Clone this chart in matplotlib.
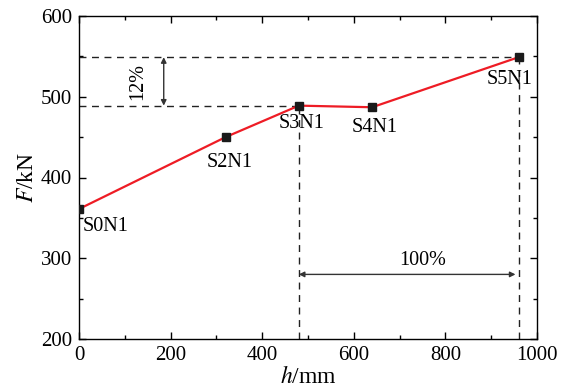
import numpy as np
import matplotlib.pyplot as plt
from matplotlib.ticker import MultipleLocator

plt.rcParams['font.family'] = ['Liberation Serif', 'DejaVu Serif']
plt.rcParams['mathtext.fontset'] = 'stix'

h = [0, 320, 480, 640, 960]
F = [361, 450, 489, 487, 549]
names = ['S0N1', 'S2N1', 'S3N1', 'S4N1', 'S5N1']
# label offsets (pixels) relative to each point
offsets = [(4, -8), (4, -16), (3, -8), (3, -11), (-9, -13)]
aligns = ['left', 'center', 'center', 'center', 'center']

F_low = 489
F_high = 549
h_start = 480
h_end = 960
pct_F = '12%'
pct_h = '100%'

fig = plt.figure(figsize=(5.63, 3.87), dpi=100)
ax = fig.add_axes([79 / 563, 48 / 387, 458 / 563, 323 / 387])

dash = dict(color='#222222', lw=1.0, ls=(0, (5, 4)))
ax.plot([0, h_end], [F_high, F_high], **dash)
ax.plot([0, h_start], [F_low, F_low], **dash)
ax.plot([h_start, h_start], [200, F_low], **dash)
ax.plot([h_end, h_end], [200, F_high], **dash)

ax.plot(h, F, color='#ee1c25', lw=1.6, zorder=3)
ax.plot(h, F, ls='none', marker='s', ms=6, color='#1a1a1a', zorder=4)

for x, y, s, off, a in zip(h, F, names, offsets, aligns):
    ax.annotate(s, (x, y), xytext=off, textcoords='offset pixels',
                ha=a, va='top', fontsize=14.5)

arrow = dict(arrowstyle='<|-|>', color='#333333', lw=1.0,
             mutation_scale=8, shrinkA=0, shrinkB=0)
ax.annotate('', xy=(185, F_high), xytext=(185, F_low), arrowprops=arrow)
ax.text(128, (F_low + F_high) / 2, pct_F, rotation=90, ha='center',
        va='center', fontsize=14.5)
ax.annotate('', xy=(h_start, 280), xytext=(953, 280), arrowprops=arrow)
ax.text(751, 286, pct_h, ha='center', va='bottom', fontsize=14.5)

ax.set_xlim(0, 1000)
ax.set_ylim(200, 600)
ax.xaxis.set_major_locator(MultipleLocator(200))
ax.xaxis.set_minor_locator(MultipleLocator(100))
ax.yaxis.set_major_locator(MultipleLocator(100))
ax.yaxis.set_minor_locator(MultipleLocator(50))
ax.tick_params(which='both', direction='in', top=True, right=True,
               labelsize=15, width=1, pad=5)
ax.tick_params(which='major', length=5)
ax.tick_params(which='minor', length=3)
for sp in ax.spines.values():
    sp.set_linewidth(1.0)

ax.set_xlabel('$h$/mm', fontsize=17, labelpad=0.5)
ax.set_ylabel('$F$/kN', fontsize=17, labelpad=2)

fig.savefig('out.png', dpi=100)
